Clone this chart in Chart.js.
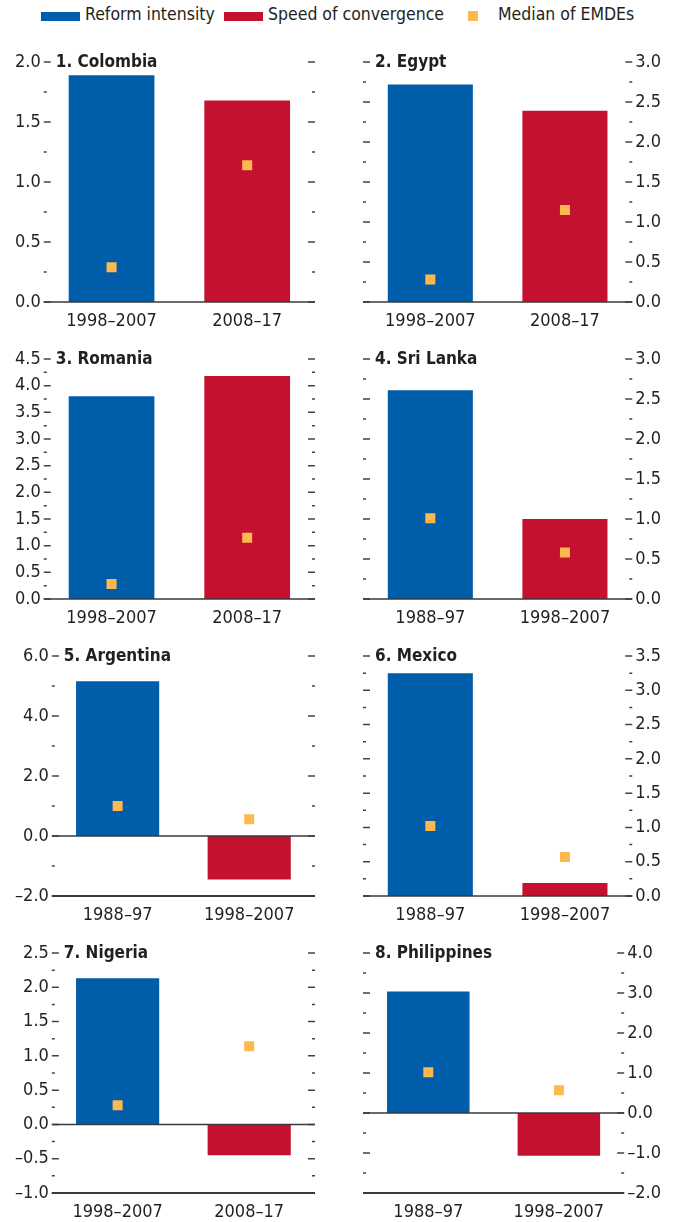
<!DOCTYPE html>
<html>
<head>
<meta charset="utf-8">
<script src="https://cdn.jsdelivr.net/npm/chart.js@4.4.1/dist/chart.umd.min.js"></script>
<style>
  html, body { margin: 0; padding: 0; background: #fff; }
  body { width: 674px; height: 1222px; position: relative; overflow: hidden; }
  .cell { position: absolute; }
  .legend-item { position: absolute; white-space: nowrap; color: #231f20; }
  .swatch { position: absolute; }
</style>
</head>
<body>
<div id="legend"></div>
<div id="charts"></div>
<script>
// ---------------- DATA ----------------
const panelTitles = ["1. Colombia", "2. Egypt", "3. Romania", "4. Sri Lanka",
                     "5. Argentina", "6. Mexico", "7. Nigeria", "8. Philippines"];
const periodsA = ["1998–2007", "2008–17"];
const periodsB = ["1988–97", "1998–2007"];
const periodLabels = [periodsA, periodsA, periodsA, periodsB, periodsB, periodsB, periodsA, periodsB];
const reformIntensity    = [1.89, 2.72, 3.80, 2.61, 5.16, 3.25, 2.13, 3.04];
const speedOfConvergence = [1.68, 2.39, 4.18, 1.00, -1.45, 0.19, -0.45, -1.07];
const medianReform       = [0.29, 0.28, 0.28, 1.01, 1.00, 1.02, 0.28, 1.02];
const medianSpeed        = [1.14, 1.15, 1.15, 0.58, 0.56, 0.57, 1.14, 0.57];
const axisMin  = [0, 0, 0, 0, -2, 0, -1, -2];
const axisMax  = [2, 3, 4.5, 3, 6, 3.5, 2.5, 4];
const axisStep = [0.5, 0.5, 0.5, 0.5, 2, 0.5, 0.5, 1];
const legendLabels = ["Reform intensity", "Speed of convergence", "Median of EMDEs"];

// ---------------- STYLE ----------------
const BLUE = "#005DAA", RED = "#C3112F", YELLOW = "#FDB94D";
const TEXT = "#231f20", TICK = "#444444";

function hasFont(name) {
  const c = document.createElement("canvas").getContext("2d");
  const s = "abcdefghijklmnopqrstuvwxyz0123456789ABCDEFGH";
  c.font = "40px monospace"; const w1 = c.measureText(s).width;
  c.font = '40px "' + name + '", monospace'; const w2 = c.measureText(s).width;
  return Math.abs(w1 - w2) > 0.5;
}
const narrow = hasFont("Liberation Sans Narrow");
const FAMILY = narrow ? '"Liberation Sans Narrow", "Liberation Sans", Arial, sans-serif'
                      : '"DejaVu Sans Condensed", "DejaVu Sans", sans-serif';
const TICK_SIZE = narrow ? 20.5 : 18;
const LEGEND_SIZE = narrow ? 20 : 17.5;
const TITLE_SIZE = narrow ? 21 : 17;

// ---------------- LEGEND ----------------
(function buildLegend() {
  const lg = document.getElementById("legend");
  const items = [
    { sw: { left: 41, top: 12, w: 39, h: 9, c: BLUE }, textLeft: 85 },
    { sw: { left: 224, top: 12, w: 39, h: 9, c: RED }, textLeft: 268 },
    { sw: { left: 468, top: 11, w: 10, h: 10, c: YELLOW }, textLeft: 498 }
  ];
  items.forEach((it, i) => {
    const s = document.createElement("div");
    s.className = "swatch";
    Object.assign(s.style, { left: it.sw.left + "px", top: it.sw.top + "px",
      width: it.sw.w + "px", height: it.sw.h + "px", background: it.sw.c });
    lg.appendChild(s);
    const t = document.createElement("div");
    t.className = "legend-item";
    t.textContent = legendLabels[i];
    Object.assign(t.style, { left: it.textLeft + "px", top: "6px",
      fontFamily: FAMILY, fontSize: LEGEND_SIZE + "px", lineHeight: LEGEND_SIZE + "px" });
    lg.appendChild(t);
  });
})();

// ---------------- PLUGIN: tick marks, zero/bottom lines, panel title ----------------
const decor = {
  id: "decor",
  afterDatasetsDraw(chart, args, o) {
    const { ctx, chartArea: a } = chart;
    const y = chart.scales.y;
    ctx.save();
    ctx.strokeStyle = TICK;
    ctx.lineWidth = 1.5;
    const half = o.step / 2;
    const n = Math.round((o.max - o.min) / half);
    for (let i = 0; i <= n; i++) {
      const v = o.min + i * half;
      const py = y.getPixelForValue(v);
      const L = (i % 2 === 0) ? 7 : 3;
      ctx.beginPath();
      ctx.moveTo(a.left, py); ctx.lineTo(a.left + L, py);
      ctx.moveTo(a.right - L, py); ctx.lineTo(a.right, py);
      ctx.stroke();
    }
    ctx.strokeStyle = "#3a3a3a";
    ctx.lineWidth = 1.6;
    const y0 = y.getPixelForValue(0);
    ctx.beginPath(); ctx.moveTo(a.left, y0); ctx.lineTo(a.right, y0); ctx.stroke();
    if (o.min < 0) {
      ctx.lineWidth = 2;
      const yb = y.getPixelForValue(o.min);
      ctx.beginPath(); ctx.moveTo(a.left, yb); ctx.lineTo(a.right, yb); ctx.stroke();
    }
    ctx.restore();
  },
  afterDraw(chart, args, o) {
    const { ctx, chartArea: a } = chart;
    const y = chart.scales.y;
    ctx.save();
    ctx.font = "bold " + TITLE_SIZE + "px " + FAMILY;
    ctx.fillStyle = TEXT;
    ctx.textAlign = "left";
    ctx.textBaseline = "middle";
    ctx.fillText(o.title, a.left + 12, y.getPixelForValue(o.max) + 1);
    ctx.restore();
  }
};

function fmt(v) {
  const r = Math.round(v * 10) / 10;
  return (r < 0 ? "–" : "") + Math.abs(r).toFixed(1);
}

// ---------------- CHARTS ----------------
const rowTops = [40, 337, 634, 931];
const holder = document.getElementById("charts");
for (let i = 0; i < 8; i++) {
  const isLeft = i % 2 === 0;
  const row = Math.floor(i / 2);
  const W = 337, H = row === 3 ? 291 : 297;
  const div = document.createElement("div");
  div.className = "cell";
  div.style.left = (isLeft ? 0 : 337) + "px";
  div.style.top = rowTops[row] + "px";
  const cv = document.createElement("canvas");
  cv.width = W; cv.height = H;
  cv.style.width = W + "px"; cv.style.height = H + "px";
  div.appendChild(cv);
  holder.appendChild(div);

  const font = { family: FAMILY, size: TICK_SIZE };
  new Chart(cv, {
    type: "bar",
    data: {
      labels: periodLabels[i],
      datasets: [
        { type: "line", label: legendLabels[2], data: [medianReform[i], medianSpeed[i]],
          showLine: false, pointStyle: "rect", pointRadius: 7.07, pointHoverRadius: 7.07,
          pointBackgroundColor: YELLOW, pointBorderWidth: 0, order: 0 },
        { label: legendLabels[0], data: [reformIntensity[i], null], backgroundColor: BLUE,
          skipNull: true, categoryPercentage: 1, barPercentage: 0.632, order: 1 },
        { label: legendLabels[1], data: [null, speedOfConvergence[i]], backgroundColor: RED,
          skipNull: true, categoryPercentage: 1, barPercentage: 0.632, order: 1 }
      ]
    },
    options: {
      responsive: false, animation: false, devicePixelRatio: 1,
      layout: { padding: { top: 22, bottom: 0, left: isLeft ? 12 : 26, right: isLeft ? 22 : 10 } },
      plugins: {
        legend: { display: false }, tooltip: { enabled: false },
        decor: { min: axisMin[i], max: axisMax[i], step: axisStep[i], title: panelTitles[i] }
      },
      scales: {
        x: {
          grid: { display: false, drawTicks: false }, border: { display: false },
          ticks: { font, color: TEXT, padding: 9, maxRotation: 0, autoSkip: false },
          afterFit(s) { s.height = H - 22 - 240; }
        },
        y: {
          position: isLeft ? "left" : "right",
          min: axisMin[i], max: axisMax[i],
          grid: { display: false, drawTicks: false }, border: { display: false },
          ticks: { stepSize: axisStep[i], font, color: TEXT, padding: 3, callback: v => fmt(v) }
        }
      }
    },
    plugins: [decor]
  });
}
</script>
</body>
</html>
